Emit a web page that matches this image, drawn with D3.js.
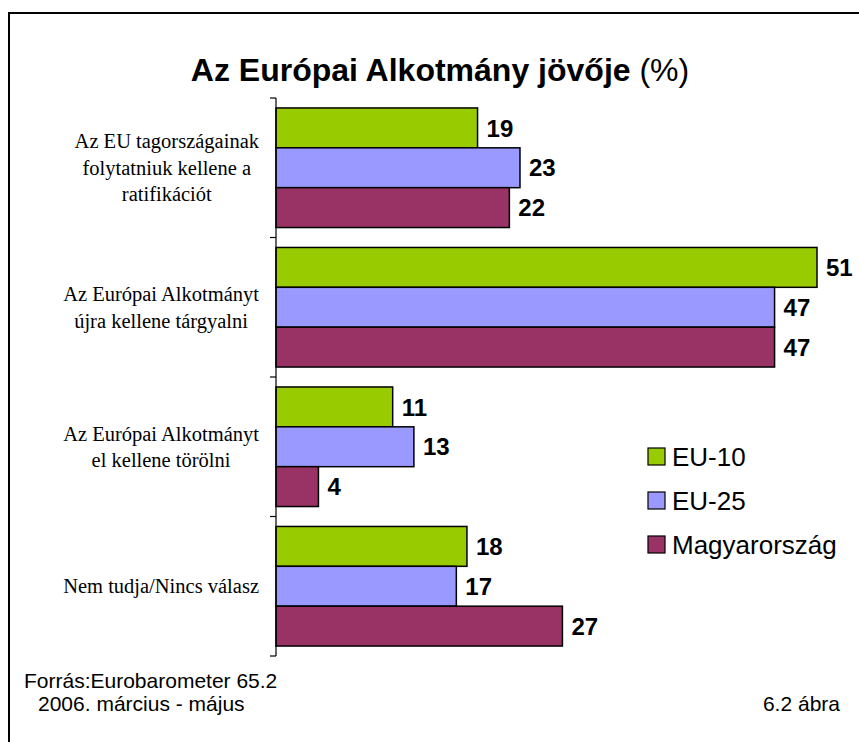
<!DOCTYPE html>
<html lang="hu">
<head>
<meta charset="utf-8">
<title>Az Európai Alkotmány jövője</title>
<style>
body { margin: 0; background: #fff; }
svg text { font-family: "Liberation Sans", Arial, sans-serif; }
svg .cat text { font-family: "Liberation Serif", "Times New Roman", serif; font-size: 20.5px; }
.val { font-size: 24px; font-weight: bold; }
</style>
</head>
<body>
<div id="chart"></div>
<script src="https://d3js.org/d3.v7.min.js"></script>
<script>
var categories = [
  ["Az EU tagországainak", "folytatniuk kellene a", "ratifikációt"],
  ["Az Európai Alkotmányt", "újra kellene tárgyalni"],
  ["Az Európai Alkotmányt", "el kellene törölni"],
  ["Nem tudja/Nincs válasz"]
];
var series = ["EU-10", "EU-25", "Magyarország"];
var colors = ["#99cc00", "#9999ff", "#993366"];
var eu10 = [19, 51, 11, 18];
var eu25 = [23, 47, 13, 17];
var hu = [22, 47, 4, 27];
var values = [eu10, eu25, hu];

var W = 859, H = 742;
var axisX = 276;

var svg = d3.select('#chart').append('svg')
  .attr('width', W).attr('height', H);

// frame
svg.append('rect')
  .attr('x', 9).attr('y', 13)
  .attr('width', W + 20).attr('height', H + 20)
  .attr('fill', 'none').attr('stroke', '#000').attr('stroke-width', 2);

// title
var title = svg.append('text')
  .attr('x', 440).attr('y', 81)
  .attr('text-anchor', 'middle')
  .style('font-size', '32px');
title.append('tspan').style('font-weight', 'bold').text('Az Európai Alkotmány jövője');
title.append('tspan').text(' (%)');

var catIdx = d3.range(categories.length);
var y0 = d3.scaleBand().domain(catIdx).range([98, 656]).padding(0);
var y1 = d3.scaleBand().domain(series).range([0, y0.bandwidth()])
  .paddingInner(0).paddingOuter(0.25);
var x = d3.scaleLinear().domain([0, 51]).range([axisX, 817]);

// bars
var groups = svg.selectAll('g.grp')
  .data(catIdx).enter().append('g')
  .attr('class', 'grp')
  .attr('transform', function(i) { return 'translate(0,' + y0(i) + ')'; });

function rows(i) {
  return series.map(function(s, k) { return {s: s, k: k, v: values[k][i]}; });
}

groups.selectAll('rect')
  .data(rows)
  .enter().append('rect')
  .attr('x', x(0))
  .attr('y', function(d) { return y1(d.s); })
  .attr('width', function(d) { return x(d.v) - x(0); })
  .attr('height', y1.bandwidth())
  .attr('fill', function(d) { return colors[d.k]; })
  .attr('stroke', '#000').attr('stroke-width', 1.5);

groups.selectAll('text.val')
  .data(rows)
  .enter().append('text')
  .attr('class', 'val')
  .attr('x', function(d) { return x(d.v) + 9; })
  .attr('y', function(d) { return y1(d.s) + y1.bandwidth() / 2; })
  .attr('dy', '0.36em')
  .text(function(d) { return d.v; });

// axis line and ticks
var ax = svg.append('g').attr('stroke', '#000').attr('stroke-width', 1.2);
ax.append('line').attr('x1', axisX).attr('x2', axisX).attr('y1', y0.range()[0]).attr('y2', y0.range()[1]);
ax.selectAll('line.tick')
  .data(catIdx.map(function(i) { return y0(i); }).concat([y0.range()[1]]))
  .enter().append('line')
  .attr('x1', axisX - 6).attr('x2', axisX)
  .attr('y1', function(d) { return d; }).attr('y2', function(d) { return d; });

// category labels
var lineH = 26.5;
var cat = svg.append('g').attr('class', 'cat');
categories.forEach(function(lines, i) {
  var t = cat.append('text').attr('text-anchor', 'middle');
  var cy = y0(i) + y0.bandwidth() / 2;
  lines.forEach(function(l, j) {
    t.append('tspan').text(l)
      .attr('y', cy + (j - (lines.length - 1) / 2) * lineH + 7);
  });
  var maxW = d3.max(t.selectAll('tspan').nodes(), function(n) { return n.getComputedTextLength(); });
  t.selectAll('tspan').attr('x', 259 - maxW / 2);
});

// legend
var leg = svg.append('g');
series.forEach(function(s, k) {
  var ly = 448 + k * 44;
  leg.append('rect')
    .attr('x', 648).attr('y', ly).attr('width', 17).attr('height', 17)
    .attr('fill', colors[k]).attr('stroke', '#000').attr('stroke-width', 1.2);
  leg.append('text')
    .attr('x', 672).attr('y', ly + 18)
    .style('font-size', '26px')
    .text(s);
});

// footer
svg.append('text').attr('x', 24).attr('y', 688).style('font-size', '21px').text('Forrás:Eurobarometer 65.2');
svg.append('text').attr('x', 38).attr('y', 711).style('font-size', '21px').text('2006. március - május');
svg.append('text').attr('x', 840).attr('y', 711).attr('text-anchor', 'end').style('font-size', '21px').text('6.2 ábra');
</script>
</body>
</html>
